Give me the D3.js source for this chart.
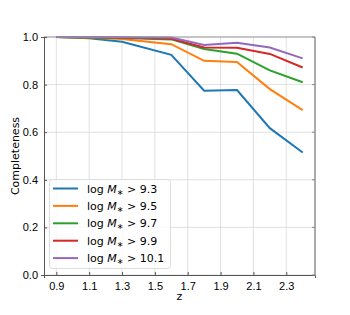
<!DOCTYPE html>
<html><head><meta charset="utf-8">
<script src="https://cdn.jsdelivr.net/npm/d3@7"></script>
<style>body{margin:0;background:#fff}svg{font-family:"DejaVu Sans",sans-serif}</style>
</head><body><svg id="c" width="350" height="315"></svg>
<script>
const zValues = [0.9, 1.1, 1.3, 1.6, 1.8, 2.0, 2.2, 2.4];
const seriesNames = ["9.3", "9.5", "9.7", "9.9", "10.1"];
const s93  = [1.0, 0.995, 0.980, 0.925, 0.774, 0.777, 0.617, 0.515];
const s95  = [1.0, 0.997, 0.992, 0.970, 0.900, 0.895, 0.781, 0.693];
const s97  = [1.0, 0.998, 0.996, 0.990, 0.950, 0.930, 0.860, 0.810];
const s99  = [1.0, 0.999, 0.998, 0.993, 0.956, 0.955, 0.929, 0.872];
const s101 = [1.0, 1.0, 0.999, 0.998, 0.966, 0.976, 0.956, 0.910];
const xTicks = [0.9, 1.1, 1.3, 1.5, 1.7, 1.9, 2.1, 2.3];
const yTicks = [0.0, 0.2, 0.4, 0.6, 0.8, 1.0];
const colors = ["#1f77b4", "#ff7f0e", "#2ca02c", "#d62728", "#9467bd"];
const allSeries = [s93, s95, s97, s99, s101];

const svg = d3.select("#c");
const L = 44, R = 315, T = 37, B = 275;
const x = d3.scaleLinear().domain([0.825, 2.475]).range([L, R]);
const y = d3.scaleLinear().domain([0, 1]).range([B, T]);

// grid
svg.append("g").selectAll("line").data(xTicks).join("line")
  .attr("x1", d => x(d)).attr("x2", d => x(d)).attr("y1", T).attr("y2", B)
  .attr("stroke", "#d9d9d9").attr("stroke-width", 0.8);
svg.append("g").selectAll("line").data(yTicks).join("line")
  .attr("x1", L).attr("x2", R).attr("y1", d => y(d)).attr("y2", d => y(d))
  .attr("stroke", "#d9d9d9").attr("stroke-width", 0.8);

// lines
const line = d3.line().x((d, i) => x(zValues[i])).y(d => y(d));
allSeries.forEach((s, k) => {
  svg.append("path").datum(s).attr("d", line).attr("fill", "none")
    .attr("stroke", colors[k]).attr("stroke-width", 2);
});

// spines
svg.append("line").attr("x1", L).attr("x2", R).attr("y1", T).attr("y2", T).attr("stroke", "#999").attr("stroke-width", 1);
svg.append("line").attr("x1", R).attr("x2", R).attr("y1", T).attr("y2", B).attr("stroke", "#aaa").attr("stroke-width", 2);

// axes
const xAxis = d3.axisBottom(x).tickValues(xTicks).tickFormat(d3.format(".1f")).tickSize(3).tickPadding(2);
const gx = svg.append("g").attr("transform", `translate(0,${B})`).call(xAxis);
gx.select(".domain").attr("stroke", "#555");
gx.selectAll(".tick line").attr("y2", -3).attr("stroke", "#555");
gx.selectAll("text").attr("font-size", 11).attr("fill", "#000").attr("dy", "0.9em");
const yAxis = d3.axisLeft(y).tickValues(yTicks).tickFormat(d3.format(".1f")).tickSize(3).tickPadding(3);
const gy = svg.append("g").attr("transform", `translate(${L},0)`).call(yAxis);
gy.select(".domain").attr("stroke", "#555");
gy.selectAll(".tick line").attr("x2", 3).attr("stroke", "#555");
gy.selectAll("text").attr("font-size", 11).attr("fill", "#000");
// right ticks
svg.append("g").selectAll("line").data(yTicks).join("line")
  .attr("x1", R - 3).attr("x2", R).attr("y1", d => y(d)).attr("y2", d => y(d)).attr("stroke", "#888");

svg.append("text").attr("x", x(1.65)).attr("y", 300).attr("text-anchor", "middle").attr("font-size", 11).text("z");
svg.append("text").attr("transform", `translate(19,${(T + B) / 2}) rotate(-90)`).attr("text-anchor", "middle").attr("font-size", 11).text("Completeness");

// legend
const lg = svg.append("g");
lg.append("rect").attr("x", 49.5).attr("y", 179.5).attr("width", 121).attr("height", 89).attr("rx", 3)
  .attr("fill", "rgba(255,255,255,0.8)").attr("stroke", "#ddd");
seriesNames.forEach((n, k) => {
  const yy = 188.5 + k * 17.4;
  lg.append("line").attr("x1", 53).attr("x2", 78).attr("y1", yy).attr("y2", yy).attr("stroke", colors[k]).attr("stroke-width", 2);
  const t = lg.append("text").attr("x", 87).attr("y", yy + 4).attr("font-size", 11);
  t.append("tspan").text("log ");
  t.append("tspan").attr("font-style", "italic").text("M");
  t.append("tspan").attr("font-size", 8).attr("dy", 2).text("∗");
  t.append("tspan").attr("dy", -2).text(" > " + n);
});
</script></body></html>
